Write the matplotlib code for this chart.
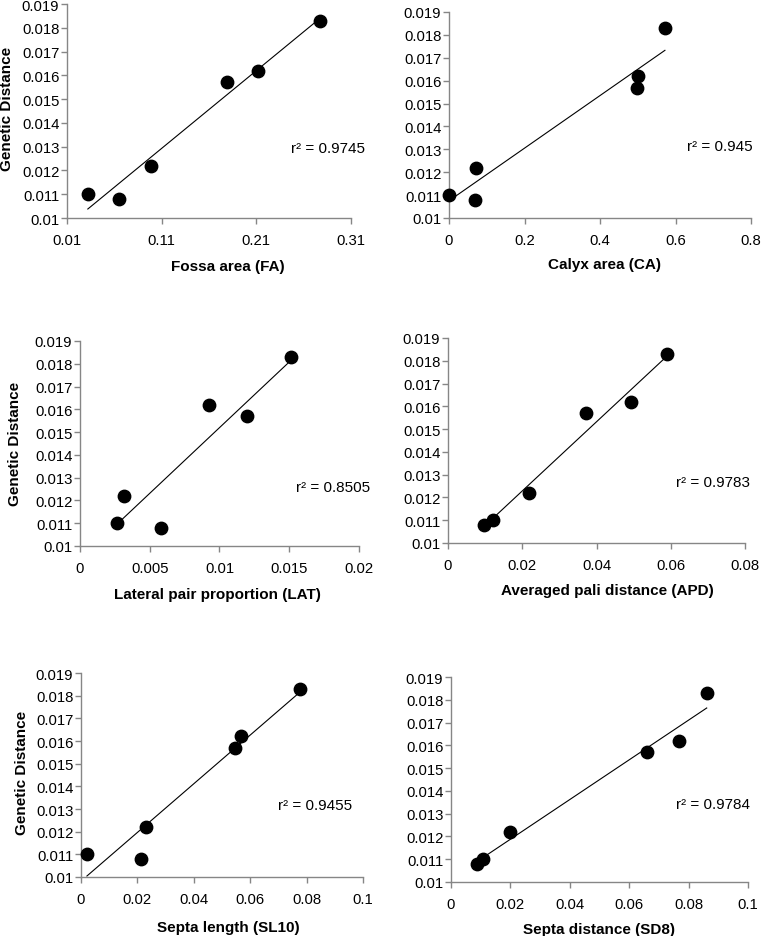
import numpy as np
import matplotlib
matplotlib.use("Agg")
import matplotlib.pyplot as plt

plt.rcParams['font.family'] = ['Liberation Sans', 'DejaVu Sans']

W, H = 761, 937

# genetic distance, same six species in every panel
gen_fa = [0.011, 0.0108, 0.0122, 0.0157, 0.0162, 0.0183]
fossa_area = [0.032, 0.065, 0.0985, 0.1785, 0.2113, 0.2775]

gen_ca = [0.011, 0.0108, 0.0122, 0.0157, 0.0162, 0.0183]
calyx_area = [0.0, 0.069, 0.0715, 0.499, 0.5015, 0.572]

gen_lat = [0.011, 0.0122, 0.0108, 0.0162, 0.0157, 0.0183]
lateral_pair = [0.00266, 0.00313, 0.00579, 0.00928, 0.01194, 0.0151]

gen_apd = [0.0108, 0.011, 0.0122, 0.0157, 0.0162, 0.0183]
pali_dist = [0.0096, 0.012, 0.0218, 0.0373, 0.0493, 0.0591]

gen_sl = [0.011, 0.0108, 0.0122, 0.0157, 0.0162, 0.0183]
septa_len = [0.0021, 0.0212, 0.0232, 0.0546, 0.0566, 0.0778]

gen_sd = [0.0108, 0.011, 0.0122, 0.0157, 0.0162, 0.0183]
septa_dist = [0.0087, 0.0108, 0.0198, 0.0661, 0.0769, 0.0861]

r2_labels = ["r² = 0.9745", "r² = 0.945", "r² = 0.8505",
             "r² = 0.9783", "r² = 0.9455", "r² = 0.9784"]
x_titles = ["Fossa area (FA)", "Calyx area (CA)", "Lateral pair proportion (LAT)",
            "Averaged pali distance (APD)", "Septa length (SL10)", "Septa distance (SD8)"]
x_ticks = [[0.01, 0.11, 0.21, 0.31], [0, 0.2, 0.4, 0.6, 0.8],
           [0, 0.005, 0.01, 0.015, 0.02], [0, 0.02, 0.04, 0.06, 0.08],
           [0, 0.02, 0.04, 0.06, 0.08, 0.1], [0, 0.02, 0.04, 0.06, 0.08, 0.1]]
x_ticklabels = [["0.01", "0.11", "0.21", "0.31"], ["0", "0.2", "0.4", "0.6", "0.8"],
                ["0", "0.005", "0.01", "0.015", "0.02"], ["0", "0.02", "0.04", "0.06", "0.08"],
                ["0", "0.02", "0.04", "0.06", "0.08", "0.1"], ["0", "0.02", "0.04", "0.06", "0.08", "0.1"]]
y_ticks = [0.01, 0.011, 0.012, 0.013, 0.014, 0.015, 0.016, 0.017, 0.018, 0.019]
y_ticklabels = ["0.01", "0.011", "0.012", "0.013", "0.014", "0.015",
                "0.016", "0.017", "0.018", "0.019"]

xs = [fossa_area, calyx_area, lateral_pair, pali_dist, septa_len, septa_dist]
ys = [gen_fa, gen_ca, gen_lat, gen_apd, gen_sl, gen_sd]

# pixel boxes: left, right, top, bottom
boxes = [(67, 351, 5, 219), (449, 751, 13, 219),
         (80, 359, 342, 547), (448, 745, 339, 544),
         (81, 363, 674, 878), (451, 748, 678, 883)]
xlabel_pos = [(228, 267), (604, 265), (217, 595), (607, 591), (228, 928), (599, 930)]
r2_pos = [(328, 149), (720, 147), (333, 488), (713, 483), (315, 806), (713, 805)]
ylabel_pos = [(7, 109), (15, 444), (22, 773)]

fig = plt.figure(figsize=(W / 100, H / 100), dpi=100)

for i in range(6):
    l, r, t, b = boxes[i]
    ax = fig.add_axes([l / W, 1 - b / H, (r - l) / W, (b - t) / H])
    x = np.array(xs[i])
    y = np.array(ys[i])
    ax.scatter(x, y, s=80, color='black', zorder=3, clip_on=False)
    k, c = np.polyfit(x, y, 1)
    xx = np.array([x.min(), x.max()])
    ax.plot(xx, k * xx + c, color='black', linewidth=0.8, zorder=2)
    ax.set_xlim(x_ticks[i][0], x_ticks[i][-1])
    ax.set_ylim(0.01, 0.019)
    ax.set_xticks(x_ticks[i])
    ax.set_xticklabels(x_ticklabels[i], fontsize=10.7)
    ax.set_yticks(y_ticks)
    ax.set_yticklabels(y_ticklabels, fontsize=10.7)
    for s in ['top', 'right']:
        ax.spines[s].set_visible(False)
    for s in ['left', 'bottom']:
        ax.spines[s].set_color('#868686')
        ax.spines[s].set_linewidth(1.0)
    ax.tick_params(direction='out', length=4, width=1.0, color='#868686',
                   labelcolor='black')
    ax.tick_params(axis='x', pad=6.5)
    ax.tick_params(axis='y', pad=1.5)
    fig.text(xlabel_pos[i][0] / W, 1 - xlabel_pos[i][1] / H, x_titles[i],
             ha='center', va='center', fontsize=11, fontweight='bold')
    fig.text(r2_pos[i][0] / W, 1 - r2_pos[i][1] / H, r2_labels[i],
             ha='center', va='center', fontsize=11)

for px, py in ylabel_pos:
    fig.text(px / W, 1 - py / H, "Genetic Distance", rotation=90,
             ha='center', va='center', fontsize=11, fontweight='bold')

fig.savefig("out.png", dpi=100)
